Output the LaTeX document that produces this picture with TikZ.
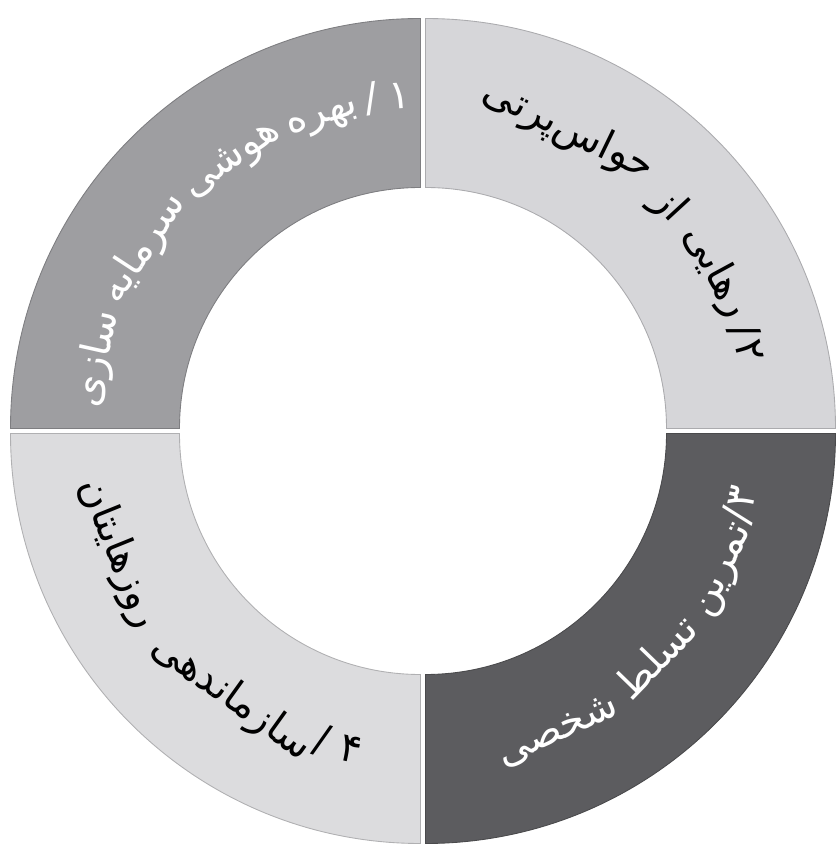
\documentclass[tikz,border=0pt]{standalone}
\usepackage{fontspec}
\newfontfamily\fuentepersa[Script=Arabic]{DejaVu Sans}
\TeXXeTstate=1

% Colores de los cuatro sectores
\definecolor{grisMedio}{RGB}{158,158,161}
\definecolor{grisClaroA}{RGB}{214,214,217}
\definecolor{grisOscuro}{RGB}{92,92,95}
\definecolor{grisClaroB}{RGB}{220,220,222}

\newlength\palabrawd
\newlength\espaciowd
\newcommand\barra{/}
\newcommand\letra{\fuentepersa\fontsize{23}{27}\selectfont}
% mide una palabra fuera del dibujo
\newcommand\medir[2]{\settowidth#1{\pgfinterruptpicture\letra\beginR#2\endR\endpgfinterruptpicture}}

\tikzset{
  sector/.style={fill=#1, draw=#1!80!black, line width=0.5pt},
  palabra/.style={inner sep=0pt, font=\letra, text height=15pt, text depth=6pt}
}

% Texto curvo: angulo medio, sentido (1 antihorario, -1 horario), color, id, palabras
\newcommand\arcotexto[5]{%
  \settowidth\espaciowd{\pgfinterruptpicture\letra\ \endpgfinterruptpicture}%
  \gdef\anchotot{0}%
  \foreach \w/\g in {#5} {%
    \medir\palabrawd{\w}%
    \pgfmathsetmacro\tmp{\anchotot+\palabrawd+\g*\espaciowd}%
    \xdef\anchotot{\tmp}%
  }%
  \pgfmathsetmacro\angini{#1-#2*deg(\anchotot/\radtexto)/2}%
  \xdef\angact{\angini}%
  \foreach \w/\g [count=\i] in {#5} {%
    \medir\palabrawd{\w}%
    \pgfmathsetmacro\angw{#2*deg(\palabrawd/\radtexto)}%
    \pgfmathsetmacro\angc{\angact+\angw/2}%
    \node[palabra, text=#3, rotate=\angc+#2*90] (#4-\i) at (\angc:\radtexto pt) {\beginR\w\endR};
    \pgfmathsetmacro\tmp{\angact+\angw+#2*deg(\g*\espaciowd/\radtexto)}%
    \xdef\angact{\tmp}%
  }%
}

\begin{document}
\begin{tikzpicture}
  \useasboundingbox (-8.46,-8.30) rectangle (8.30,8.62);

  % Radios del anillo (1 px = 0.02 cm)
  \pgfmathsetmacro\rext{8.2}
  \pgfmathsetmacro\rint{4.82}
  \pgfmathsetmacro\radtexto{6.62*28.4528}

  % Sectores, separados un poco entre si
  \foreach \ang/\col/\sx/\sy in {90/grisMedio/-1/1, 0/grisClaroA/1/1,
                                 -90/grisOscuro/1/-1, 180/grisClaroB/-1/-1} {
    \draw[sector=\col, shift={(\sx*0.05,\sy*0.05)}]
      (\ang:\rext) arc (\ang:\ang+90:\rext) -- (\ang+90:\rint)
      arc (\ang+90:\ang:\rint) -- cycle;
  }

  % Rotulos de cada sector
  \arcotexto{134}{-1}{white}{t1}{سازی/0.7,سرمایه/0.7,هوشی/0.7,بهره/0.6,\barra/0.8,۱/0}
  \arcotexto{46}{-1}{black}{t2}{حواس‌پرتی/1.3,از/1.3,رهایی/0.7,\barra/0.2,۲/0}
  \arcotexto{-43.4}{1}{white}{t3}{شخصی/0.9,تسلط/0.9,تمرین/0.1,\barra/0.1,۳/0}
  \arcotexto{223.7}{1}{black}{t4}{روزهایتان/1.1,سازماندهی/0.1,\barra/1,۴/0}
\end{tikzpicture}
\end{document}
